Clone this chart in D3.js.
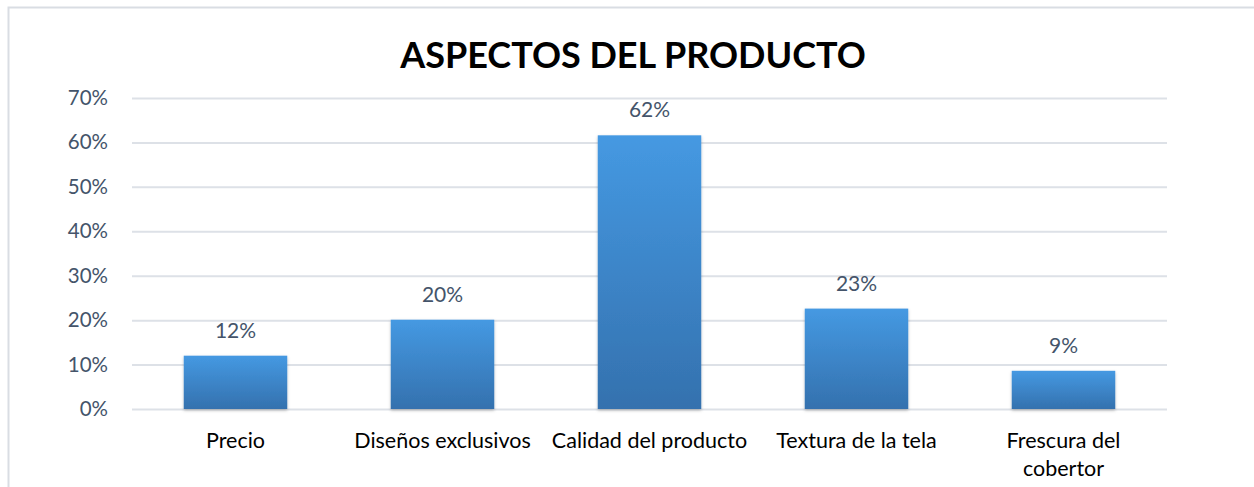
<!DOCTYPE html>
<html>
<head>
<meta charset="utf-8">
<script src="https://cdn.jsdelivr.net/npm/d3@7"></script>
<style>
  body { margin: 0; background: #fff; }
  svg { display: block; font-family: Lato, "Open Sans", sans-serif; }
</style>
</head>
<body>
<div id="chart"></div>
<script>
// datos
var categorias = ["Precio", "Diseños exclusivos", "Calidad del producto", "Textura de la tela", "Frescura del cobertor"];
var valores = [0.12, 0.201, 0.616, 0.226, 0.086];
var ticksY = [0, 0.1, 0.2, 0.3, 0.4, 0.5, 0.6, 0.7];
var titulo = "ASPECTOS DEL PRODUCTO";

var width = 1254, height = 487;
var margin = {top: 98, right: 87, bottom: 78, left: 132};

var svg = d3.select("#chart")
    .append("svg")
    .attr("width", width)
    .attr("height", height);

// marco del grafico (solo se ve arriba y a la izquierda)
svg.append("rect")
    .attr("x", 8.5).attr("y", 7.5)
    .attr("width", width + 10).attr("height", height + 10)
    .attr("fill", "none")
    .attr("stroke", "#d9dde3")
    .attr("stroke-width", 2);

var defs = svg.append("defs");
var grad = defs.append("linearGradient")
    .attr("id", "barra")
    .attr("x1", 0).attr("y1", 0).attr("x2", 0).attr("y2", 1);
grad.append("stop").attr("offset", "0%").attr("stop-color", "#4599e2");
grad.append("stop").attr("offset", "100%").attr("stop-color", "#3471ae");

var filtro = defs.append("filter").attr("id", "sombra")
    .attr("x", "-10%").attr("y", "-10%").attr("width", "120%").attr("height", "130%");
filtro.append("feDropShadow")
    .attr("dx", 0).attr("dy", 1.5).attr("stdDeviation", 1.5)
    .attr("flood-color", "#000").attr("flood-opacity", 0.25);

var x = d3.scaleBand()
    .domain(categorias)
    .range([margin.left, width - margin.right])
    .paddingInner(0.5)
    .paddingOuter(0.25);

var y = d3.scaleLinear()
    .domain([0, 0.7])
    .range([height - margin.bottom, margin.top]);

// lineas de cuadricula y etiquetas del eje Y
var ejeY = svg.append("g")
    .attr("transform", "translate(" + margin.left + ",0)")
    .call(d3.axisLeft(y)
        .tickValues(ticksY)
        .tickFormat(d3.format(".0%"))
        .tickSize(-(width - margin.left - margin.right))
        .tickPadding(24));
ejeY.select(".domain").remove();
ejeY.selectAll(".tick line")
    .attr("stroke", "#dde1e7")
    .attr("stroke-width", 2);
ejeY.selectAll(".tick text")
    .attr("fill", "#44546a")
    .style("font-size", "20.5px")
    .style("font-family", "Lato, sans-serif");

// barras
svg.selectAll(".bar")
    .data(valores)
    .enter()
    .append("rect")
        .attr("class", "bar")
        .attr("x", function(d, i) { return x(categorias[i]); })
        .attr("y", function(d) { return y(d); })
        .attr("width", x.bandwidth())
        .attr("height", function(d) { return y(0) - y(d); })
        .attr("fill", "url(#barra)")
        .attr("filter", "url(#sombra)");

// etiquetas de valor
svg.selectAll(".valor")
    .data(valores)
    .enter()
    .append("text")
        .attr("class", "valor")
        .attr("x", function(d, i) { return x(categorias[i]) + x.bandwidth() / 2; })
        .attr("y", function(d) { return y(d) - 18; })
        .attr("text-anchor", "middle")
        .attr("fill", "#44546a")
        .style("font-size", "21px")
        .text(function(d) { return d3.format(".0%")(d); });

// etiquetas de categoria (con salto de linea para la ultima)
var lineas = {"Frescura del cobertor": ["Frescura del", "cobertor"]};
svg.selectAll(".cat")
    .data(categorias)
    .enter()
    .append("text")
        .attr("class", "cat")
        .attr("x", function(d) { return x(d) + x.bandwidth() / 2; })
        .attr("y", 448)
        .attr("text-anchor", "middle")
        .attr("fill", "#000")
        .style("font-size", "21.5px")
        .each(function(d) {
            var partes = lineas[d] || [d];
            var t = d3.select(this);
            partes.forEach(function(p, k) {
                t.append("tspan")
                    .attr("x", x(d) + x.bandwidth() / 2)
                    .attr("dy", k == 0 ? 0 : 28)
                    .text(p);
            });
        });

// titulo
svg.append("text")
    .attr("x", 633)
    .attr("y", 68)
    .attr("text-anchor", "middle")
    .attr("fill", "#000")
    .style("font-size", "36px")
    .style("font-weight", "bold")
    .text(titulo);
</script>
</body>
</html>
